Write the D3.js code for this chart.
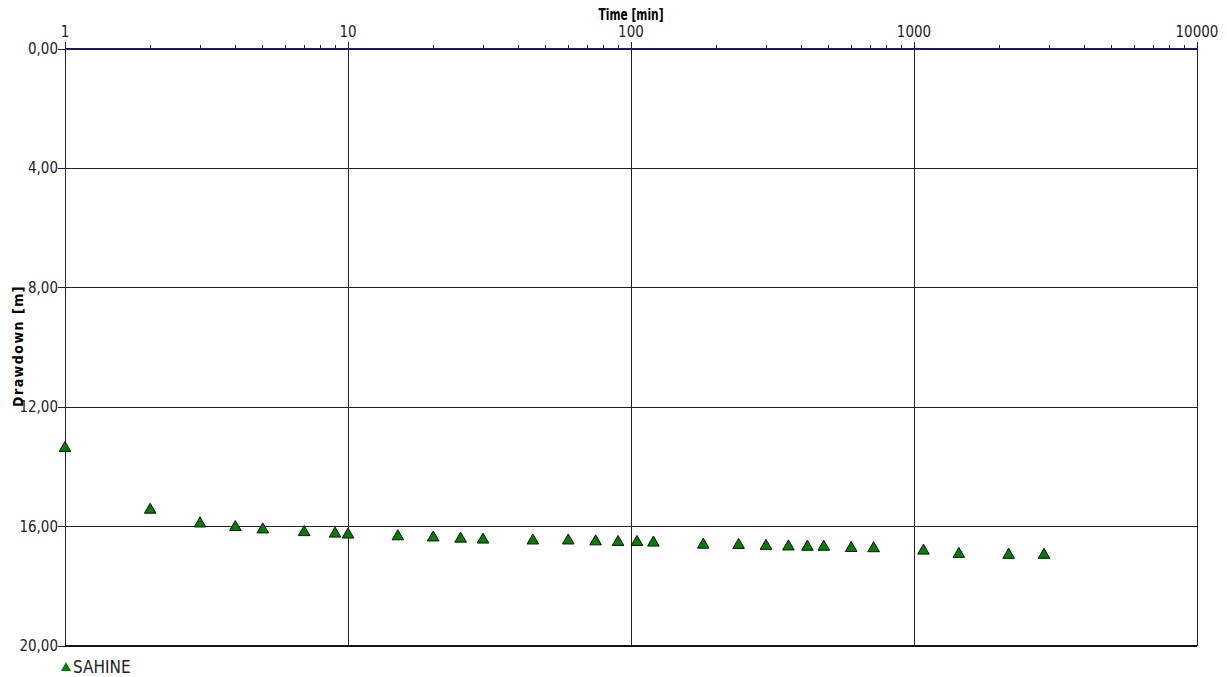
<!DOCTYPE html>
<html><head><meta charset="utf-8">
<script src="https://cdn.jsdelivr.net/npm/d3@7"></script>
<style>body{margin:0;background:#fff}svg{display:block}</style>
</head><body>
<svg id="c" width="1227" height="677"></svg>
<script>
const times = [1,2,3,4,5,7,9,10,15,20,25,30,45,60,75,90,105,120,180,240,300,360,420,480,600,720,1080,1440,2160,2880];
const drawdown = [13.37,15.44,15.90,16.02,16.10,16.19,16.24,16.27,16.33,16.37,16.41,16.44,16.47,16.47,16.50,16.52,16.52,16.54,16.61,16.62,16.65,16.67,16.68,16.68,16.72,16.73,16.81,16.92,16.95,16.95];
const xTicks = [1,10,100,1000,10000];
const yTicks = [0,4,8,12,16,20];
const seriesName = "SAHINE";

const svg = d3.select("#c");
const L=65, R=1197, T=49, B=646;
const x = d3.scaleLog().domain([1,10000]).range([L,R]);
const y = d3.scaleLinear().domain([0,20]).range([T,B]);
const narrow = "'Liberation Sans Narrow', 'DejaVu Sans Condensed', sans-serif";
const cond = "'DejaVu Sans Condensed', 'DejaVu Sans', sans-serif";

// grid horizontal
svg.append("g").selectAll("line").data(yTicks.filter(d=>d>0)).join("line")
  .attr("x1",L).attr("x2",R).attr("y1",d=>y(d)).attr("y2",d=>y(d))
  .attr("stroke","#222").attr("stroke-width",1).attr("shape-rendering","crispEdges");
// grid vertical
svg.append("g").selectAll("line").data(xTicks).join("line")
  .attr("x1",d=>x(d)).attr("x2",d=>x(d)).attr("y1",T-7).attr("y2",B)
  .attr("stroke","#222").attr("stroke-width",1).attr("shape-rendering","crispEdges");
// minor ticks top
const minor=[];
for(let e=0;e<4;e++) for(let m=2;m<=9;m++) minor.push(m*Math.pow(10,e));
svg.append("g").selectAll("line").data(minor).join("line")
  .attr("x1",d=>x(d)).attr("x2",d=>x(d)).attr("y1",T-4).attr("y2",T)
  .attr("stroke","#222").attr("stroke-width",1).attr("shape-rendering","crispEdges");
// bottom line
svg.append("line").attr("x1",L).attr("x2",R).attr("y1",B).attr("y2",B)
  .attr("stroke","#111").attr("stroke-width",2);
// top line
svg.append("line").attr("x1",L).attr("x2",R).attr("y1",T).attr("y2",T)
  .attr("stroke","#1a1a5a").attr("stroke-width",2);
// y ticks
svg.append("g").selectAll("line").data(yTicks).join("line")
  .attr("x1",L-7).attr("x2",L).attr("y1",d=>y(d)).attr("y2",d=>y(d))
  .attr("stroke","#222").attr("shape-rendering","crispEdges");
svg.append("g").selectAll("text").data(yTicks).join("text")
  .attr("x",L-7).attr("y",d=>y(d)+5).attr("text-anchor","end")
  .attr("font-family",narrow).attr("font-size",15).attr("fill","#222")
  .text(d=>d3.format(".2f")(d).replace(".",","));
// x tick labels
svg.append("g").selectAll("text").data(xTicks).join("text")
  .attr("x",d=>x(d)).attr("y",37).attr("text-anchor","middle")
  .attr("font-family",narrow).attr("font-size",15).attr("fill","#222")
  .text(d=>d);
// titles
svg.append("text").attr("x",631).attr("y",20).attr("text-anchor","middle")
  .attr("font-family",narrow).attr("font-size",15).attr("font-weight","bold")
  .attr("textLength",65).attr("lengthAdjust","spacingAndGlyphs")
  .text("Time [min]");
svg.append("text").attr("transform","translate(23,346) rotate(-90)").attr("text-anchor","middle")
  .attr("font-family",cond).attr("font-size",14).attr("font-weight","bold")
  .attr("letter-spacing","1.5").text("Drawdown [m]");
// points
const tri = d3.symbol().type(d3.symbolTriangle).size(58);
svg.append("g").selectAll("path").data(times.map((t,i)=>[t,drawdown[i]])).join("path")
  .attr("d",tri).attr("transform",d=>`translate(${x(d[0])},${y(d[1])})`)
  .attr("fill","#008000").attr("stroke","#111").attr("stroke-width",1);
// legend
svg.append("path").attr("d",d3.symbol().type(d3.symbolTriangle).size(45))
  .attr("transform","translate(66,668)").attr("fill","#008000");
svg.append("text").attr("x",73).attr("y",673).attr("font-family",cond)
  .attr("font-size",17).attr("fill","#222").text(seriesName);
</script>
</body></html>
